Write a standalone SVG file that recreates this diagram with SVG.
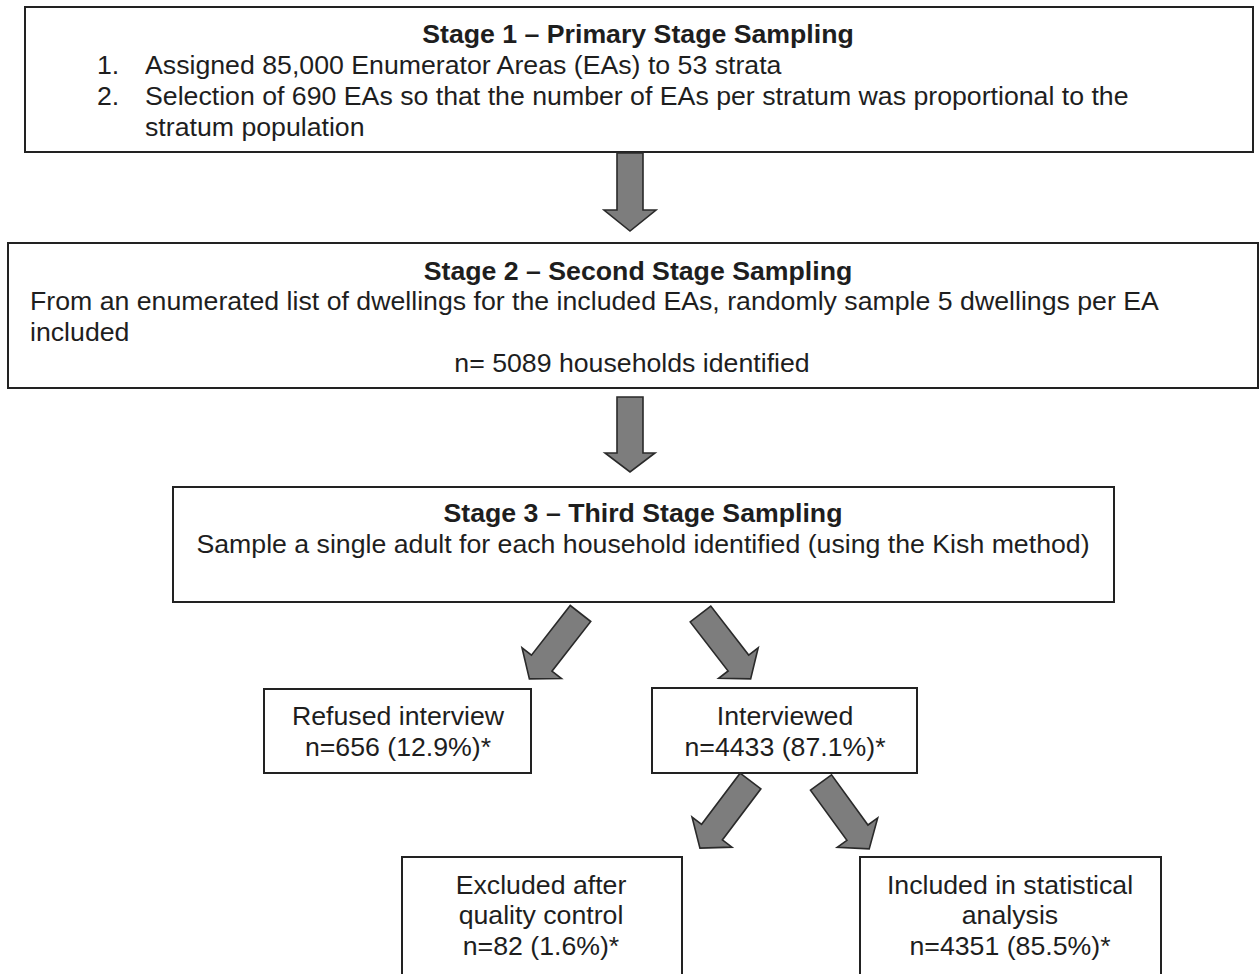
<svg xmlns="http://www.w3.org/2000/svg" width="1260" height="974" viewBox="0 0 1260 974">
<style>
.box{fill:#fff;stroke:#222;stroke-width:2}
.t{font-family:"Liberation Sans",Arial,sans-serif;font-size:26.7px;fill:#1e1e1e}
.b{font-weight:bold}
.c{text-anchor:middle}
.arr{fill:#7d7d7d;stroke:#2a2a2a;stroke-width:1.6;stroke-linejoin:miter}
</style>
<rect width="1260" height="974" fill="#fff"/>
<g id="stage1">
<rect class="box" x="25" y="7" width="1228" height="145"/>
<text class="t b c" x="638" y="43">Stage 1 – Primary Stage Sampling</text>
<text class="t" x="97" y="74">1.</text>
<text class="t" x="145" y="74">Assigned 85,000 Enumerator Areas (EAs) to 53 strata</text>
<text class="t" x="97" y="105">2.</text>
<text class="t" x="145" y="105">Selection of 690 EAs so that the number of EAs per stratum was proportional to the</text>
<text class="t" x="145" y="136">stratum population</text>
</g>
<g id="stage2">
<rect class="box" x="8" y="243" width="1250" height="145"/>
<text class="t b c" x="638" y="280">Stage 2 – Second Stage Sampling</text>
<text class="t" x="30" y="310">From an enumerated list of dwellings for the included EAs, randomly sample 5 dwellings per EA</text>
<text class="t" x="30" y="341">included</text>
<text class="t c" x="632" y="372">n= 5089 households identified</text>
</g>
<g id="stage3">
<rect class="box" x="173" y="487" width="941" height="115"/>
<text class="t b c" x="643" y="522">Stage 3 – Third Stage Sampling</text>
<text class="t c" x="643" y="553">Sample a single adult for each household identified (using the Kish method)</text>
</g>
<g id="refused">
<rect class="box" x="264" y="689" width="267" height="84"/>
<text class="t c" x="398" y="725">Refused interview</text>
<text class="t c" x="398" y="756">n=656 (12.9%)*</text>
</g>
<g id="interviewed">
<rect class="box" x="652" y="688" width="265" height="85"/>
<text class="t c" x="785" y="725">Interviewed</text>
<text class="t c" x="785" y="756">n=4433 (87.1%)*</text>
</g>
<g id="excluded">
<rect class="box" x="402" y="857" width="280" height="130"/>
<text class="t c" x="541" y="894">Excluded after</text>
<text class="t c" x="541" y="924">quality control</text>
<text class="t c" x="541" y="955">n=82 (1.6%)*</text>
</g>
<g id="included">
<rect class="box" x="860" y="857" width="301" height="130"/>
<text class="t c" x="1010" y="894">Included in statistical</text>
<text class="t c" x="1010" y="924">analysis</text>
<text class="t c" x="1010" y="955">n=4351 (85.5%)*</text>
</g>
<g id="connectors">
<path class="arr" transform="translate(630,153)" d="M-13,0 L13,0 L13,57 L26,57 L0,78 L-26,57 L-13,57 Z"/>
<path class="arr" transform="translate(630,397)" d="M-13,0 L13,0 L13,56 L25,56 L0,75 L-25,56 L-13,56 Z"/>
<path class="arr" transform="translate(580.5,613.5) rotate(38)" d="M-13,0 L13,0 L13,63 L25,63 L0,83 L-25,63 L-13,63 Z"/>
<path class="arr" transform="translate(700.5,614) rotate(-37.7)" d="M-13,0 L13,0 L13,62 L25,62 L0,82 L-25,62 L-13,62 Z"/>
<path class="arr" transform="translate(750.5,781) rotate(37)" d="M-13,0 L13,0 L13,64 L25,64 L0,84 L-25,64 L-13,64 Z"/>
<path class="arr" transform="translate(821,782.5) rotate(-36)" d="M-13,0 L13,0 L13,62 L25,62 L0,82 L-25,62 L-13,62 Z"/>
</g>
</svg>
